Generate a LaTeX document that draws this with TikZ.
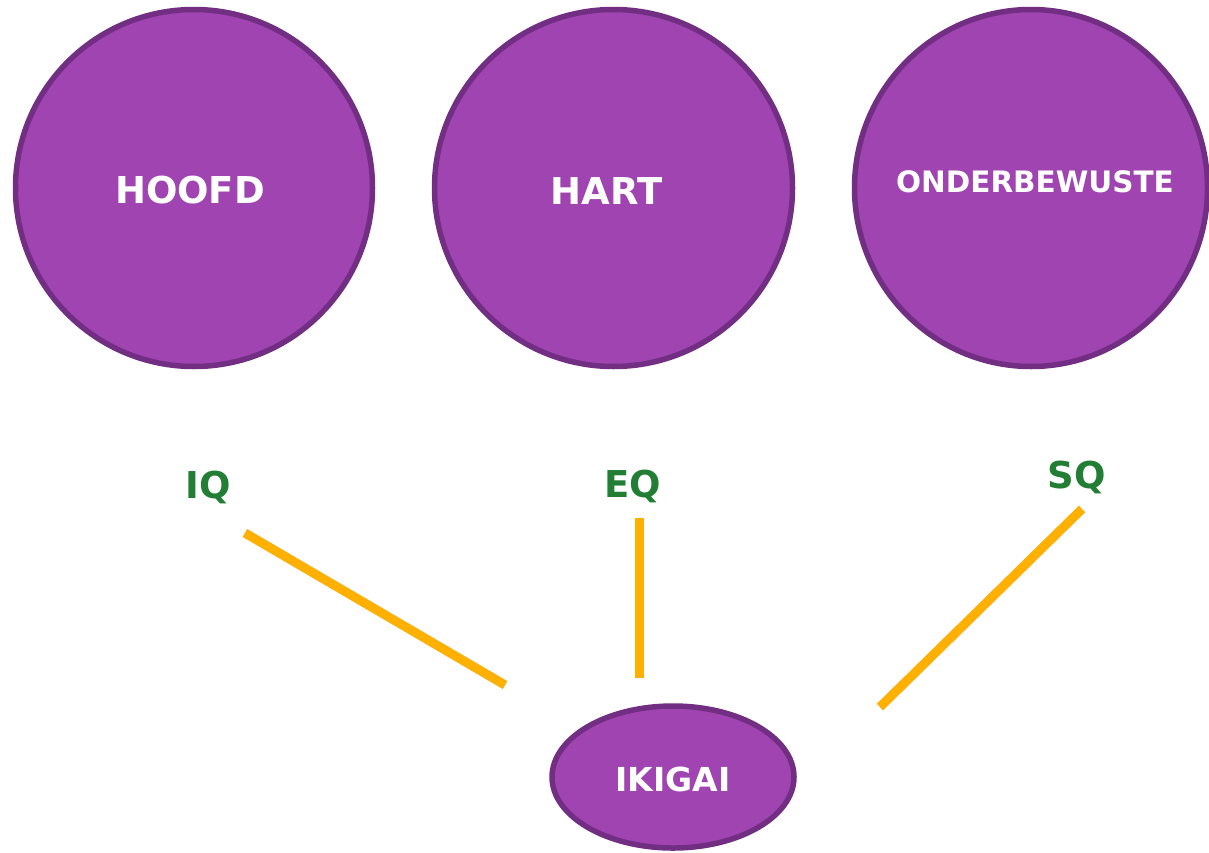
\documentclass[tikz,border=0pt]{standalone}
\usepackage{fontspec}
\setmainfont{DejaVu Sans}
\usetikzlibrary{shapes.geometric}
\definecolor{pfill}{RGB}{160,68,177}
\definecolor{pline}{RGB}{114,46,130}
\definecolor{qgreen}{RGB}{34,126,52}
\definecolor{orng}{RGB}{255,176,0}
\tikzset{
  bubble/.style={ellipse, draw=pline, fill=pfill, line width=5.5pt, inner sep=0pt},
  bubtext/.style={text=white, inner sep=0pt, font=\bfseries\fontsize{37}{40}\selectfont},
  qlabel/.style={text=qgreen, inner sep=0pt, font=\bfseries\fontsize{37}{40}\selectfont},
  bar/.style={draw=orng, line width=9pt},
  barshadow/.style={draw=black!45, opacity=0.4, line width=9pt}
}
\begin{document}
\begin{tikzpicture}[x=1pt,y=-1pt]
\useasboundingbox (0,0) rectangle (1209,852);
\node[bubble, minimum width=357pt, minimum height=357pt,
  label={[bubtext, xshift=-4pt, yshift=-2pt]center:HOOFD}] (hoofd) at (194,188) {};
\node[bubble, minimum width=358pt, minimum height=357pt,
  label={[bubtext, xshift=-7pt, yshift=-3pt]center:HART}] (hart) at (613.5,188) {};
\node[bubble, minimum width=353pt, minimum height=357pt,
  label={[bubtext, font=\bfseries\fontsize{29.5}{32}\selectfont, xshift=4pt, yshift=6pt]center:ONDERBEWUSTE}] (onder) at (1031,188) {};
\node[bubble, minimum width=242pt, minimum height=142pt,
  label={[bubtext, font=\bfseries\fontsize{33}{36}\selectfont, yshift=-2pt]center:IKIGAI}] (ikigai) at (673,777) {};
\node[qlabel] (iq) at (208,487) {IQ};
\node[qlabel] (eq) at (633,486) {EQ};
\node[qlabel] (sq) at (1077,477) {SQ};
\coordinate (iqa) at (245,533);
\coordinate (iqb) at (505,685);
\coordinate (eqa) at (639,518);
\coordinate (eqb) at (639,678);
\coordinate (sqa) at (1082,509);
\coordinate (sqb) at (880,707);
\begin{scope}[shift={(2,2.5)}]
\draw[barshadow] (iqa) -- (iqb);
\draw[barshadow] (eqa) -- (eqb);
\draw[barshadow] (sqa) -- (sqb);
\end{scope}
\draw[bar] (iqa) -- (iqb);
\draw[bar] (eqa) -- (eqb);
\draw[bar] (sqa) -- (sqb);
\end{tikzpicture}
\end{document}
